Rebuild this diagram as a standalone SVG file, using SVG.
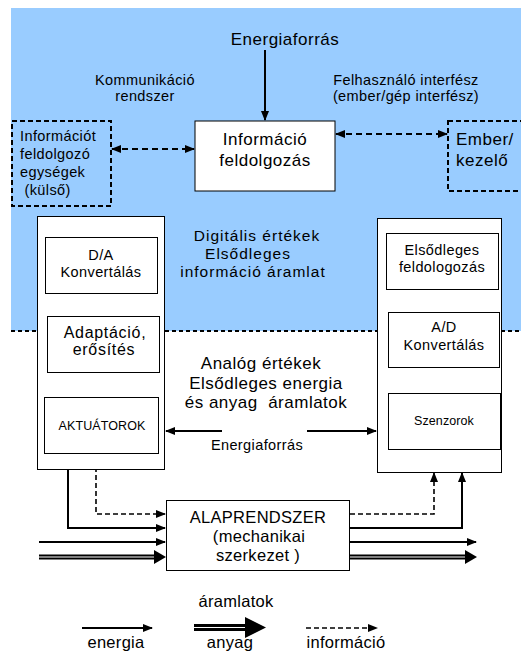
<svg xmlns="http://www.w3.org/2000/svg" width="521" height="652" viewBox="0 0 521 652">
<style>
text{font-family:"Liberation Sans",Arial,sans-serif;fill:#000}
.big{font-size:17px;letter-spacing:0.5px}
.dig{font-size:15.5px;letter-spacing:1px}
.mid{font-size:14.5px;letter-spacing:0.4px}
.box17{font-size:16px;letter-spacing:0.7px}
.sm{font-size:12.5px;letter-spacing:0.1px}
.lg{font-size:16.5px;letter-spacing:0.3px}
.box{fill:#fff;stroke:#000;stroke-width:1}
.dbox{fill:none;stroke:#000;stroke-width:2;stroke-dasharray:5,3}
.sol{fill:none;stroke:#000;stroke-width:2}
.dash{fill:none;stroke:#000;stroke-width:2.2;stroke-dasharray:6,4}
.dashs{fill:none;stroke:#000;stroke-width:1.6;stroke-dasharray:5,3}
</style>
<defs>
<marker id="ah" viewBox="0 0 10 8" refX="9" refY="4" markerWidth="10" markerHeight="8" markerUnits="userSpaceOnUse" orient="auto-start-reverse"><path d="M0,0 L10,4 L0,8 z" fill="#000"/></marker>
</defs>
<g id="background">
<rect x="11" y="8" width="510" height="323" fill="#99CCFF"/>
<line x1="11" y1="331" x2="521" y2="331" stroke="#000" stroke-width="2" stroke-dasharray="4,3"/>
</g>
<g id="labels">
<text class="big" x="285" y="45" text-anchor="middle">Energiaforrás</text>
<text class="mid" x="145" y="85" text-anchor="middle">Kommunikáció</text>
<text class="mid" x="145" y="101" text-anchor="middle">rendszer</text>
<text class="mid" x="406" y="85" text-anchor="middle">Felhasználó interfész</text>
<text class="mid" x="406" y="101" text-anchor="middle">(ember/gép interfész)</text>
<text class="dig" x="257" y="241" text-anchor="middle">Digitális értékek</text>
<text class="dig" x="248" y="259" text-anchor="middle">Elsődleges</text>
<text class="dig" x="253" y="277" text-anchor="middle">információ áramlat</text>
<text class="big" x="261" y="369" text-anchor="middle">Analóg értékek</text>
<text class="big" x="266" y="389" text-anchor="middle">Elsődleges energia</text>
<text class="big" x="266" y="408" text-anchor="middle" xml:space="preserve">és anyag  áramlatok</text>
<text class="mid" x="257" y="450" text-anchor="middle">Energiaforrás</text>
</g>
<g id="connectors">
<line class="sol" x1="265" y1="50" x2="265" y2="120" stroke-width="2.5" marker-end="url(#ah)"/>
<line class="dash" x1="112" y1="149" x2="194" y2="149" marker-start="url(#ah)" marker-end="url(#ah)"/>
<line class="dash" x1="336" y1="134" x2="447" y2="134" marker-start="url(#ah)" marker-end="url(#ah)"/>
<line class="sol" x1="222" y1="431" x2="166" y2="431" stroke-width="2.5" marker-end="url(#ah)"/>
<line class="sol" x1="307" y1="431" x2="376" y2="431" stroke-width="2.5" marker-end="url(#ah)"/>
<polyline class="sol" points="68,459 68,528 165,528" marker-end="url(#ah)"/>
<polyline class="dashs" points="96,459 96,514 165,514" marker-end="url(#ah)"/>
<line class="sol" x1="39" y1="542" x2="165" y2="542" stroke-width="3" marker-end="url(#ah)"/>
<line x1="39" y1="557" x2="158" y2="557" stroke="#000" stroke-width="5"/>
<line x1="39" y1="557" x2="160" y2="557" stroke="#fff" stroke-width="1"/>
<path d="M154,550 L166,557 L154,564 z" fill="#000"/>
<polyline class="dashs" points="350,514 434,514 434,473" marker-end="url(#ah)"/>
<polyline class="sol" points="350,528 462,528 462,473" stroke-width="2.5" marker-end="url(#ah)"/>
<line class="sol" x1="350" y1="542" x2="476" y2="542" stroke-width="3" marker-end="url(#ah)"/>
<line x1="350" y1="557" x2="468" y2="557" stroke="#000" stroke-width="5"/>
<line x1="350" y1="557" x2="470" y2="557" stroke="#fff" stroke-width="1"/>
<path d="M465,550 L477,557 L465,564 z" fill="#000"/>
</g>
<g id="info-feldolgozas">
<rect class="box" x="195" y="121" width="140" height="70"/>
<text class="big" x="265" y="145" text-anchor="middle">Információ</text>
<text class="big" x="265" y="166" text-anchor="middle">feldolgozás</text>
</g>
<g id="kulso">
<rect class="dbox" x="12" y="121" width="99" height="85"/>
<text class="mid" x="20" y="141">Információt</text>
<text class="mid" x="20" y="159">feldolgozó</text>
<text class="mid" x="20" y="177">egységek</text>
<text class="mid" x="20" y="195" xml:space="preserve"> (külső)</text>
</g>
<g id="ember">
<rect class="dbox" x="448" y="121" width="80" height="70"/>
<text class="big" x="456" y="145">Ember/</text>
<text class="big" x="456" y="166">kezelő</text>
</g>
<g id="left-column">
<rect class="box" x="37.5" y="216.5" width="127" height="253"/>
</g>
<g id="da">
<rect class="box" x="45.5" y="237.5" width="112" height="56"/>
<text class="mid" x="101" y="260" text-anchor="middle">D/A</text>
<text class="mid" x="101" y="277" text-anchor="middle">Konvertálás</text>
</g>
<g id="adaptacio">
<rect class="box" x="47.5" y="316.5" width="112" height="56"/>
<text class="box17" x="105" y="338" text-anchor="middle">Adaptáció,</text>
<text class="box17" x="104" y="355" text-anchor="middle">erősítés</text>
</g>
<g id="aktuatorok">
<rect class="box" x="44.5" y="397.5" width="114" height="56"/>
<text class="sm" x="102" y="430" text-anchor="middle">AKTUÁTOROK</text>
</g>
<g id="right-column">
<rect class="box" x="377.5" y="218.5" width="124" height="254"/>
</g>
<g id="elsodleges">
<rect class="box" x="386.5" y="233.5" width="112" height="56"/>
<text class="mid" x="442" y="255" text-anchor="middle">Elsődleges</text>
<text class="mid" x="442" y="272" text-anchor="middle">feldologozás</text>
</g>
<g id="ad">
<rect class="box" x="388.5" y="312.5" width="111" height="55"/>
<text class="mid" x="444" y="332" text-anchor="middle">A/D</text>
<text class="mid" x="444" y="350" text-anchor="middle">Konvertálás</text>
</g>
<g id="szenzorok">
<rect class="box" x="388.5" y="393.5" width="112" height="56"/>
<text class="sm" x="444" y="425" text-anchor="middle">Szenzorok</text>
</g>
<g id="alaprendszer">
<rect class="box" x="166.5" y="500.5" width="183" height="70"/>
<text class="lg" x="258" y="523" text-anchor="middle">ALAPRENDSZER</text>
<text class="lg" x="259" y="542" text-anchor="middle">(mechanikai</text>
<text class="lg" x="258" y="561" text-anchor="middle">szerkezet )</text>
</g>
<g id="legend">
<text class="lg" x="236" y="607" text-anchor="middle">áramlatok</text>
<line class="sol" x1="82" y1="628" x2="152" y2="628" marker-end="url(#ah)"/>
<text class="lg" x="116" y="648" text-anchor="middle">energia</text>
<line x1="194" y1="627.5" x2="246" y2="627.5" stroke="#000" stroke-width="7"/>
<line x1="194" y1="627.5" x2="246" y2="627.5" stroke="#fff" stroke-width="1.2"/>
<path d="M245,617 L266,627.5 L245,638 z" fill="#000"/>
<text class="lg" x="230" y="648" text-anchor="middle">anyag</text>
<line class="dashs" x1="306" y1="628" x2="377" y2="628" marker-end="url(#ah)"/>
<text class="lg" x="346" y="648" text-anchor="middle">információ</text>
</g>
</svg>
